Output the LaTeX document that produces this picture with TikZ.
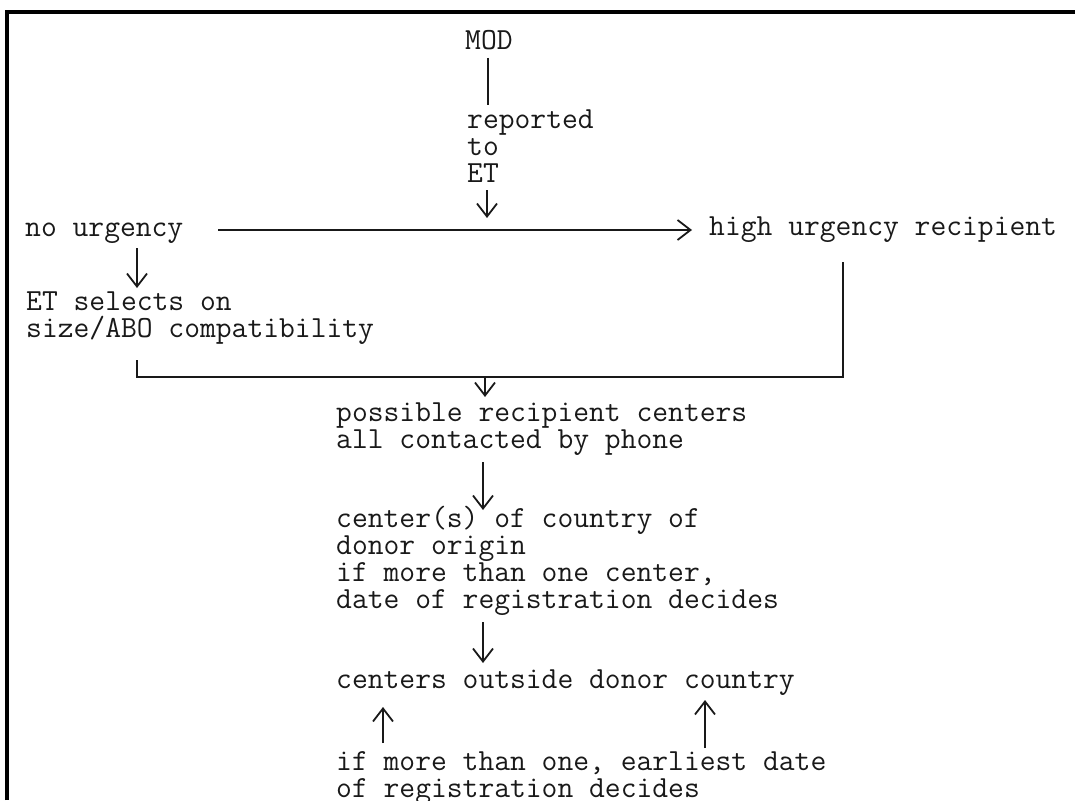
\documentclass[tikz,border=0pt]{standalone}
\usepackage{fontspec}
\usetikzlibrary{arrows.meta}
\begin{document}
\begin{tikzpicture}[x=1pt,y=-1pt,
  txt/.style={anchor=base west,inner sep=0pt,align=left,font=\ttfamily\addfontfeatures{FakeBold=0.8}\fontsize{30.7}{27}\selectfont,text=black!90},
  conn/.style={line width=2pt,draw=black!90},
  arr/.style={conn,-{Straight Barb[length=13pt,width=20pt,line width=1.8pt]}},
  frame/.style={line width=3.5pt,draw=black}]
\useasboundingbox (0,0) rectangle (1075,800);
\draw[frame] (7,800) -- (7,12) -- (1075,12);

\node[txt] (mod) at (465,50) {MOD};
\node[txt] (rep) at (467,182) {reported\\to\\ET};
\node[txt] (nou) at (25,236) {no urgency};
\node[txt] (hiu) at (709,235) {high urgency recipient};
\node[txt] (sel) at (26,337) {ET selects on\\size/ABO compatibility};
\node[txt] (pos) at (336,448) {possible recipient centers\\all contacted by phone};
\node[txt] (ctr) at (336,608) {center(s) of country of\\donor origin\\if more than one center,\\date of registration decides};
\node[txt] (out) at (336,688) {centers outside donor country};
\node[txt] (ifm) at (336,797) {if more than one, earliest date\\of registration decides};

\coordinate (m1) at (488,58);  \coordinate (m2) at (488,105);
\coordinate (e1) at (487,190); \coordinate (e2) at (487,218);
\coordinate (h1) at (218,230); \coordinate (h2) at (692,230);
\coordinate (n1) at (137,248); \coordinate (n2) at (137,288);
\coordinate (b1) at (137,360); \coordinate (b2) at (137,377);
\coordinate (b3) at (843,377); \coordinate (b4) at (843,262);
\coordinate (s1) at (485,377); \coordinate (s2) at (485,397);
\coordinate (p1) at (483,462); \coordinate (p2) at (483,510);
\coordinate (c1) at (483,622); \coordinate (c2) at (483,663);
\coordinate (u1) at (383,743); \coordinate (u2) at (383,707);
\coordinate (v1) at (705,748); \coordinate (v2) at (705,700);

\draw[conn] (m1) -- (m2);
\draw[arr] (e1) -- (e2);
\draw[arr] (h1) -- (h2);
\draw[arr] (n1) -- (n2);
\draw[conn] (b1) -- (b2) -- (b3) -- (b4);
\draw[arr] (s1) -- (s2);
\draw[arr] (p1) -- (p2);
\draw[arr] (c1) -- (c2);
\draw[arr] (u1) -- (u2);
\draw[arr] (v1) -- (v2);
\end{tikzpicture}
\end{document}
